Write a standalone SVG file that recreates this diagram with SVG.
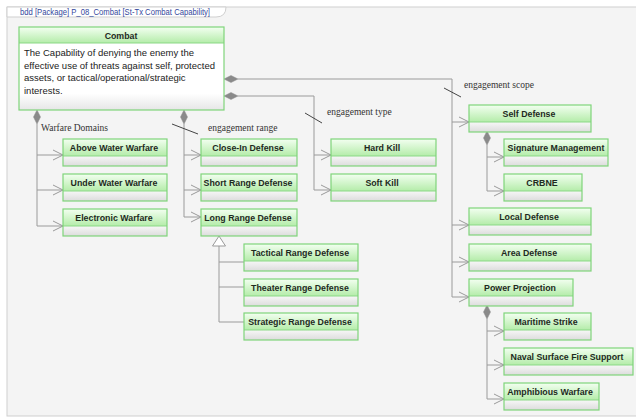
<svg xmlns="http://www.w3.org/2000/svg" width="636" height="417" viewBox="0 0 636 417">
<defs>
<linearGradient id="hdr" x1="0" y1="0" x2="0" y2="1">
<stop offset="0" stop-color="#f3fff1"/>
<stop offset="1" stop-color="#b4eca9"/>
</linearGradient>
<linearGradient id="cmp" x1="0" y1="0" x2="0" y2="1">
<stop offset="0" stop-color="#f7f7f7"/>
<stop offset="1" stop-color="#dcdcdc"/>
</linearGradient>
<linearGradient id="cbody" x1="0" y1="0" x2="0" y2="1">
<stop offset="0" stop-color="#ffffff"/>
<stop offset="0.8" stop-color="#ffffff"/>
<stop offset="1" stop-color="#e6e6e6"/>
</linearGradient>
<marker id="open" markerWidth="12" markerHeight="12" refX="11" refY="6" orient="auto" markerUnits="userSpaceOnUse">
<path d="M1,1 L11,6 L1,11" fill="none" stroke="#9a9a9a" stroke-width="1"/>
</marker>
</defs>
<style>
.frame{fill:#f4f4f4;stroke:#cfcfcf;stroke-width:1}
.tab{fill:#ffffff;stroke:#cfcfcf;stroke-width:1}
.title{font-family:"Liberation Sans",Arial,sans-serif;font-size:8.5px;fill:#33479c}
.box{fill:none;stroke:#7fd47a;stroke-width:1.2}
.hdr{fill:url(#hdr)}
.cmp{fill:url(#cmp)}
.div{stroke:#8bd886;stroke-width:1}
.nm{font-family:"Liberation Sans",Arial,sans-serif;font-size:8.8px;font-weight:bold;fill:#1e2a1e;text-anchor:middle}
.desc{font-family:"Liberation Sans",Arial,sans-serif;font-size:9.5px;fill:#222}
.ln{fill:none;stroke:#9a9a9a;stroke-width:1}
.arr{fill:none;stroke:#9a9a9a;stroke-width:1;marker-end:url(#open)}
.dia{fill:#8a8a8a;stroke:#8a8a8a;stroke-width:0.5}
.lbl{font-family:"Liberation Serif","Times New Roman",serif;font-size:9.5px;fill:#333}
.sl{stroke:#444;stroke-width:1}
.gen{fill:#ffffff;stroke:#9a9a9a;stroke-width:1}
</style>
<rect x="0" y="0" width="636" height="417" fill="#ffffff"/>
<rect class="frame" x="7" y="7" width="640" height="409"/>
<path class="tab" d="M7,7 H226 Q226,17 216,17 H7 Z"/>
<text class="title" x="20" y="15" textLength="190" lengthAdjust="spacingAndGlyphs">bdd [Package] P_08_Combat [St-Tx Combat Capability]</text>

<g id="connectors">
<!-- Warfare Domains -->
<polygon class="dia" points="37,110 40.5,117 37,124 33.5,117"/>
<path class="arr" d="M37,124 V155 H63"/>
<path class="arr" d="M37,155 V190 H63"/>
<path class="arr" d="M37,190 V226 H63"/>
<!-- engagement range -->
<polygon class="dia" points="184,110 187.5,117 184,124 180.5,117"/>
<path class="arr" d="M184,124 V155 H201"/>
<path class="arr" d="M184,155 V190 H201"/>
<path class="arr" d="M184,190 V217 H201"/>
<!-- engagement type -->
<polygon class="dia" points="224,96 231,92.5 238,96 231,99.5"/>
<path class="arr" d="M238,96 H314 V155 H331"/>
<path class="arr" d="M314,155 V190 H331"/>
<!-- engagement scope -->
<polygon class="dia" points="224,79 231,75.5 238,79 231,82.5"/>
<path class="arr" d="M238,79 H452 V122 H469"/>
<path class="arr" d="M452,122 V225 H469"/>
<path class="arr" d="M452,225 V262 H469"/>
<path class="arr" d="M452,262 V297 H469"/>
<!-- Self Defense parts -->
<polygon class="dia" points="487,131 490.5,138 487,145 483.5,138"/>
<path class="arr" d="M487,145 V157 H504"/>
<path class="arr" d="M487,157 V191 H504"/>
<!-- Power Projection parts -->
<polygon class="dia" points="487,305 490.5,312 487,319 483.5,312"/>
<path class="arr" d="M487,319 V331 H504"/>
<path class="arr" d="M487,331 V365 H504"/>
<path class="arr" d="M487,365 V399 H504"/>
<!-- generalization -->
<path class="ln" d="M219,246 V322 H244 M219,262 H244 M219,287 H244"/>
<polygon class="gen" points="219,236 225.5,246 212.5,246"/>
<!-- labels -->
<text class="lbl" x="41" y="131">Warfare Domains</text>
<text class="lbl" x="208" y="131">engagement range</text>
<line class="sl" x1="172" y1="124" x2="198" y2="134"/>
<text class="lbl" x="327" y="115">engagement type</text>
<line class="sl" x1="305" y1="113" x2="322" y2="123"/>
<text class="lbl" x="464" y="88">engagement scope</text>
<line class="sl" x1="444" y1="88" x2="461" y2="97"/>
</g>

<g id="combat">
<rect x="19" y="27" width="205" height="83" fill="url(#cbody)"/>
<rect class="hdr" x="19" y="27" width="205" height="16"/>
<line class="div" x1="19" y1="43" x2="224" y2="43"/>
<rect class="box" x="19" y="27" width="205" height="83"/>
<text class="nm" x="121" y="38.5">Combat</text>
<text class="desc" x="24" y="56">The Capability of denying the enemy the</text>
<text class="desc" x="24" y="68.5">effective use of threats against self, protected</text>
<text class="desc" x="24" y="81">assets, or tactical/operational/strategic</text>
<text class="desc" x="24" y="93.5">interests.</text>
</g>

<g id="above-water-warfare">
<rect class="hdr" x="63" y="139" width="104" height="17"/><rect class="cmp" x="63" y="156" width="104" height="10"/>
<line class="div" x1="63" y1="156" x2="167" y2="156"/><rect class="box" x="63" y="139" width="104" height="27"/>
<text class="nm" x="114" y="150.5">Above Water Warfare</text>
</g>
<g id="under-water-warfare">
<rect class="hdr" x="63" y="174" width="104" height="17"/><rect class="cmp" x="63" y="191" width="104" height="10"/>
<line class="div" x1="63" y1="191" x2="167" y2="191"/><rect class="box" x="63" y="174" width="104" height="27"/>
<text class="nm" x="114" y="185.5">Under Water Warfare</text>
</g>
<g id="electronic-warfare">
<rect class="hdr" x="63" y="209" width="104" height="17"/><rect class="cmp" x="63" y="226" width="104" height="10"/>
<line class="div" x1="63" y1="226" x2="167" y2="226"/><rect class="box" x="63" y="209" width="104" height="27"/>
<text class="nm" x="114" y="220.5">Electronic Warfare</text>
</g>

<g id="close-in-defense">
<rect class="hdr" x="201" y="139" width="96" height="17"/><rect class="cmp" x="201" y="156" width="96" height="10"/>
<line class="div" x1="201" y1="156" x2="297" y2="156"/><rect class="box" x="201" y="139" width="96" height="27"/>
<text class="nm" x="248" y="150.5">Close-In Defense</text>
</g>
<g id="short-range-defense">
<rect class="hdr" x="201" y="174" width="96" height="17"/><rect class="cmp" x="201" y="191" width="96" height="10"/>
<line class="div" x1="201" y1="191" x2="297" y2="191"/><rect class="box" x="201" y="174" width="96" height="27"/>
<text class="nm" x="248" y="185.5">Short Range Defense</text>
</g>
<g id="long-range-defense">
<rect class="hdr" x="201" y="209" width="96" height="17"/><rect class="cmp" x="201" y="226" width="96" height="10"/>
<line class="div" x1="201" y1="226" x2="297" y2="226"/><rect class="box" x="201" y="209" width="96" height="27"/>
<text class="nm" x="248" y="220.5">Long Range Defense</text>
</g>

<g id="hard-kill">
<rect class="hdr" x="331" y="139" width="105" height="17"/><rect class="cmp" x="331" y="156" width="105" height="10"/>
<line class="div" x1="331" y1="156" x2="436" y2="156"/><rect class="box" x="331" y="139" width="105" height="27"/>
<text class="nm" x="382" y="150.5">Hard Kill</text>
</g>
<g id="soft-kill">
<rect class="hdr" x="331" y="174" width="105" height="17"/><rect class="cmp" x="331" y="191" width="105" height="10"/>
<line class="div" x1="331" y1="191" x2="436" y2="191"/><rect class="box" x="331" y="174" width="105" height="27"/>
<text class="nm" x="382" y="185.5">Soft Kill</text>
</g>

<g id="tactical-range-defense">
<rect class="hdr" x="244" y="244" width="114" height="17"/><rect class="cmp" x="244" y="261" width="114" height="10"/>
<line class="div" x1="244" y1="261" x2="358" y2="261"/><rect class="box" x="244" y="244" width="114" height="27"/>
<text class="nm" x="300" y="255.5">Tactical Range Defense</text>
</g>
<g id="theater-range-defense">
<rect class="hdr" x="244" y="279" width="114" height="17"/><rect class="cmp" x="244" y="296" width="114" height="10"/>
<line class="div" x1="244" y1="296" x2="358" y2="296"/><rect class="box" x="244" y="279" width="114" height="27"/>
<text class="nm" x="300" y="290.5">Theater Range Defense</text>
</g>
<g id="strategic-range-defense">
<rect class="hdr" x="244" y="313" width="114" height="17"/><rect class="cmp" x="244" y="330" width="114" height="10"/>
<line class="div" x1="244" y1="330" x2="358" y2="330"/><rect class="box" x="244" y="313" width="114" height="27"/>
<text class="nm" x="300" y="324.5">Strategic Range Defense</text>
</g>

<g id="self-defense">
<rect class="hdr" x="469" y="105" width="122" height="17"/><rect class="cmp" x="469" y="122" width="122" height="10"/>
<line class="div" x1="469" y1="122" x2="591" y2="122"/><rect class="box" x="469" y="105" width="122" height="27"/>
<text class="nm" x="529" y="116.5">Self Defense</text>
</g>
<g id="signature-management">
<rect class="hdr" x="504" y="139" width="104" height="17"/><rect class="cmp" x="504" y="156" width="104" height="10"/>
<line class="div" x1="504" y1="156" x2="608" y2="156"/><rect class="box" x="504" y="139" width="104" height="27"/>
<text class="nm" x="556" y="150.5">Signature Management</text>
</g>
<g id="crbne">
<rect class="hdr" x="504" y="174" width="78" height="17"/><rect class="cmp" x="504" y="191" width="78" height="10"/>
<line class="div" x1="504" y1="191" x2="582" y2="191"/><rect class="box" x="504" y="174" width="78" height="27"/>
<text class="nm" x="542" y="185.5">CRBNE</text>
</g>
<g id="local-defense">
<rect class="hdr" x="469" y="208" width="122" height="17"/><rect class="cmp" x="469" y="225" width="122" height="10"/>
<line class="div" x1="469" y1="225" x2="591" y2="225"/><rect class="box" x="469" y="208" width="122" height="27"/>
<text class="nm" x="529" y="219.5">Local Defense</text>
</g>
<g id="area-defense">
<rect class="hdr" x="469" y="244" width="122" height="17"/><rect class="cmp" x="469" y="261" width="122" height="10"/>
<line class="div" x1="469" y1="261" x2="591" y2="261"/><rect class="box" x="469" y="244" width="122" height="27"/>
<text class="nm" x="529" y="255.5">Area Defense</text>
</g>
<g id="power-projection">
<rect class="hdr" x="469" y="279" width="104" height="17"/><rect class="cmp" x="469" y="296" width="104" height="10"/>
<line class="div" x1="469" y1="296" x2="573" y2="296"/><rect class="box" x="469" y="279" width="104" height="27"/>
<text class="nm" x="520" y="290.5">Power Projection</text>
</g>
<g id="maritime-strike">
<rect class="hdr" x="504" y="313" width="87" height="17"/><rect class="cmp" x="504" y="330" width="87" height="10"/>
<line class="div" x1="504" y1="330" x2="591" y2="330"/><rect class="box" x="504" y="313" width="87" height="27"/>
<text class="nm" x="546" y="324.5">Maritime Strike</text>
</g>
<g id="naval-surface-fire-support">
<rect class="hdr" x="504" y="348" width="129" height="17"/><rect class="cmp" x="504" y="365" width="129" height="10"/>
<line class="div" x1="504" y1="365" x2="633" y2="365"/><rect class="box" x="504" y="348" width="129" height="27"/>
<text class="nm" x="567" y="359.5">Naval Surface Fire Support</text>
</g>
<g id="amphibious-warfare">
<rect class="hdr" x="504" y="383" width="95" height="17"/><rect class="cmp" x="504" y="400" width="95" height="10"/>
<line class="div" x1="504" y1="400" x2="599" y2="400"/><rect class="box" x="504" y="383" width="95" height="27"/>
<text class="nm" x="550" y="394.5">Amphibious Warfare</text>
</g>
</svg>
